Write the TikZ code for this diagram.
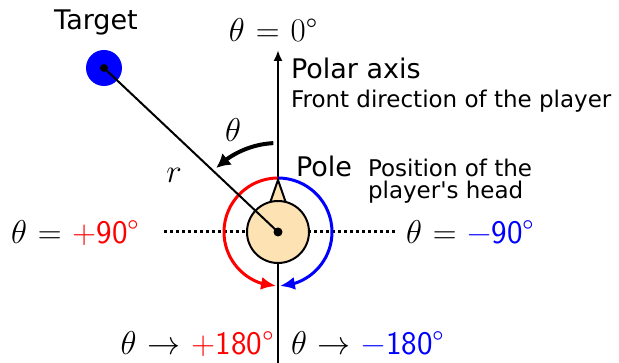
\RequirePackage{fix-cm}
\documentclass[tikz,border=0pt]{standalone}
\usepackage{fontspec}
\newfontfamily\dejavu{DejaVu Sans}
\usetikzlibrary{arrows.meta,bending}

\definecolor{headcol}{RGB}{253,226,180}

\tikzset{
  bigtxt/.style={font=\dejavu\fontsize{27}{30}\selectfont, inner sep=0pt},
  smalltxt/.style={font=\dejavu\fontsize{23}{25}\selectfont, inner sep=0pt},
  mathtxt/.style={font=\fontsize{33}{36}\selectfont, inner sep=0pt},
  turnarc/.style={line width=3pt, -{Latex[length=15pt,width=13pt]}},
}

% Kolorowe wartosci kata
\newcommand{\angval}[2]{\textcolor{#1}{\textsf{#2°}}}
\thickmuskip=6mu plus 5mu\relax

\begin{document}
\begin{tikzpicture}[x=1pt, y=1pt, line width=2pt]
\useasboundingbox (0,0) rectangle (619,363);

% Promien luku wokol glowy
\def\R{54}

% ---------- Os biegunowa ----------
\coordinate (axbot) at (278,0);
\coordinate (axtop) at (278,313);
\draw[line width=2.5pt, -{Latex[length=11pt,width=9pt]}] (axbot) -- (axtop);

% ---------- Linia kropkowana ----------
\coordinate (dotl) at (164,131);
\coordinate (dotr) at (396,131);
\draw[line width=3pt, dash pattern=on 3pt off 3pt] (dotl) -- (dotr);

% ---------- Glowa gracza ----------
\coordinate (pole) at (278,131);
\draw[red, turnarc] ([shift={(90:\R)}]pole) arc[start angle=90, end angle=268, radius=\R];
\draw[blue, turnarc] ([shift={(90:\R)}]pole) arc[start angle=90, end angle=-88, radius=\R];
\draw[fill=headcol] (270,160) -- (278,183) -- (286,160) -- cycle;
\node[circle, draw, fill=headcol, minimum size=62pt, inner sep=0pt] (head) at (pole) {};

% ---------- Cel ----------
\node[circle, fill=blue, minimum size=36pt, inner sep=0pt] (target) at (104,295) {};
\fill (target.center) circle (4pt);
\draw (target.center) -- (head.center);
\fill (head.center) circle (4.5pt);

% ---------- Kat theta ----------
\draw[line width=4pt, -{Latex[length=14pt,width=15pt]}] ([shift={(93:89)}]head.center) arc[start angle=93, end angle=134, radius=89];

% ---------- Etykiety ----------
\node[bigtxt] (tlab) at (96,341) {Target};
\node[mathtxt, anchor=base] (zero) at (273,321) {$\theta = \mbox{0°}$};
\node[bigtxt, anchor=base west] (polar) at (290,284) {Polar axis};
\node[smalltxt, anchor=base west] (front) at (290,255) {Front direction of the player};
\node[mathtxt] (thlab) at (233,233) {$\theta$};
\node[mathtxt] (rlab) at (174,188) {$r$};
\node[bigtxt, anchor=base west] (polelab) at (295,186) {Pole};
\node[smalltxt, anchor=base west] (poslab) at (367,186) {Position of the};
\node[smalltxt, anchor=base west] (poslab2) at (367,164) {player\textquotesingle s head};
\node[mathtxt, anchor=base west] (plus90) at (10,119) {$\theta = \angval{red}{+90}$};
\node[mathtxt, anchor=base west] (minus90) at (405,119) {$\theta = \angval{blue}{−90}$};
\node[mathtxt, anchor=base east] (plus180) at (275,8) {$\theta \to \angval{red}{+180}$};
\node[mathtxt, anchor=base west] (minus180) at (290,8) {$\theta \to \angval{blue}{−180}$};

\end{tikzpicture}
\end{document}
